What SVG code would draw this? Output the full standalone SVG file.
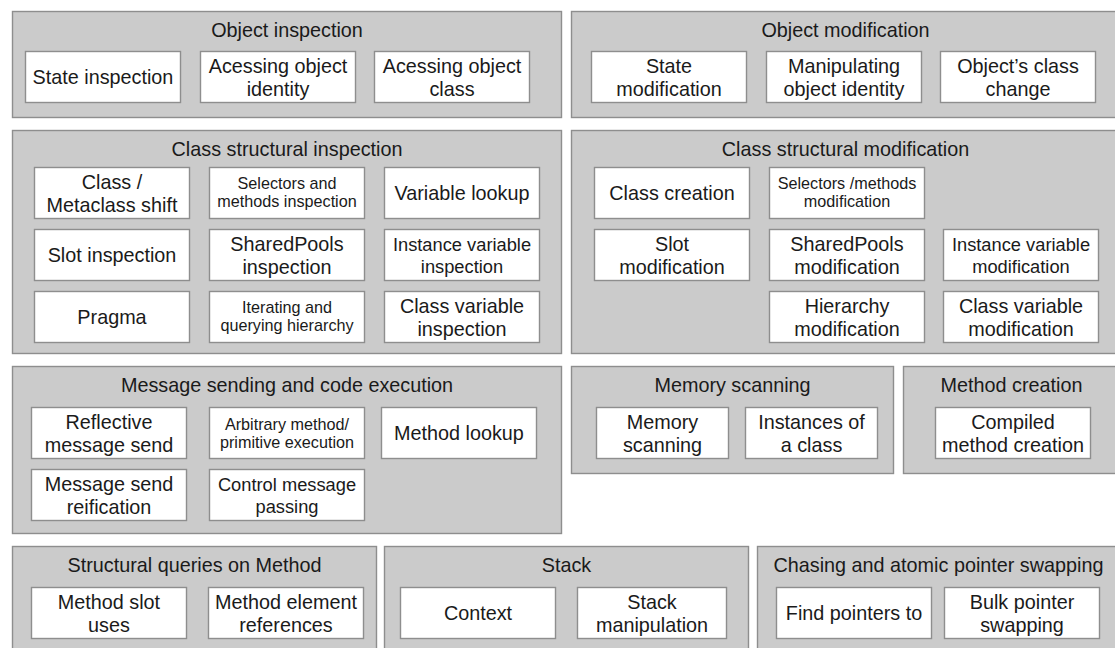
<svg xmlns="http://www.w3.org/2000/svg" width="1115" height="648" viewBox="0 0 1115 648">
<style>
.panel{fill:#cbcbcb;stroke:#8e8e8e;stroke-width:1.4}
.box{fill:#ffffff;stroke:#8e8e8e;stroke-width:1.4}
text{font-family:"Liberation Sans",Arial,Helvetica,sans-serif;fill:#1a1a1a;text-anchor:middle}
.t{font-size:19.8px}
.b{font-size:19.8px}
.n{font-size:18.3px}
.s{font-size:16.2px}
</style>
<rect width="1115" height="648" fill="#ffffff"/>

<g id="object-inspection">
<rect class="panel" x="12.5" y="11.5" width="549" height="106"/>
<text class="t" x="287" y="36.8">Object inspection</text>
<rect class="box" x="25.5" y="51.5" width="155" height="51"/>
<text class="b" x="103" y="84">State inspection</text>
<rect class="box" x="200.5" y="51.5" width="155" height="51"/>
<text class="b" x="278" y="73">Acessing object</text>
<text class="b" x="278" y="95.5">identity</text>
<rect class="box" x="374.5" y="51.5" width="155" height="51"/>
<text class="b" x="452" y="73">Acessing object</text>
<text class="b" x="452" y="95.5">class</text>
</g>

<g id="object-modification">
<rect class="panel" x="571.5" y="11.5" width="548" height="106"/>
<text class="t" x="845.5" y="36.8">Object modification</text>
<rect class="box" x="591.5" y="51.5" width="155" height="51"/>
<text class="b" x="669" y="73">State</text>
<text class="b" x="669" y="95.5">modification</text>
<rect class="box" x="766.5" y="51.5" width="155" height="51"/>
<text class="b" x="844" y="73">Manipulating</text>
<text class="b" x="844" y="95.5">object identity</text>
<rect class="box" x="940.5" y="51.5" width="155" height="51"/>
<text class="b" x="1018" y="73">Object’s class</text>
<text class="b" x="1018" y="95.5">change</text>
</g>

<g id="class-structural-inspection">
<rect class="panel" x="12.5" y="130.5" width="549" height="223"/>
<text class="t" x="287" y="155.8">Class structural inspection</text>
<rect class="box" x="34.5" y="167.5" width="155" height="51"/>
<text class="b" x="112" y="189">Class /</text>
<text class="b" x="112" y="211.5">Metaclass shift</text>
<rect class="box" x="209.5" y="167.5" width="155" height="51"/>
<text class="s" x="287" y="188.8">Selectors and</text>
<text class="s" x="287" y="207">methods inspection</text>
<rect class="box" x="384.5" y="167.5" width="155" height="51"/>
<text class="b" x="462" y="200">Variable lookup</text>
<rect class="box" x="34.5" y="229.5" width="155" height="51"/>
<text class="b" x="112" y="262">Slot inspection</text>
<rect class="box" x="209.5" y="229.5" width="155" height="51"/>
<text class="b" x="287" y="251">SharedPools</text>
<text class="b" x="287" y="273.5">inspection</text>
<rect class="box" x="384.5" y="229.5" width="155" height="51"/>
<text class="n" x="462" y="251">Instance variable</text>
<text class="n" x="462" y="273">inspection</text>
<rect class="box" x="34.5" y="291.5" width="155" height="51"/>
<text class="b" x="112" y="324">Pragma</text>
<rect class="box" x="209.5" y="291.5" width="155" height="51"/>
<text class="s" x="287" y="312.8">Iterating and</text>
<text class="s" x="287" y="331">querying hierarchy</text>
<rect class="box" x="384.5" y="291.5" width="155" height="51"/>
<text class="b" x="462" y="313">Class variable</text>
<text class="b" x="462" y="335.5">inspection</text>
</g>

<g id="class-structural-modification">
<rect class="panel" x="571.5" y="130.5" width="548" height="223"/>
<text class="t" x="845.5" y="155.8">Class structural modification</text>
<rect class="box" x="594.5" y="167.5" width="155" height="51"/>
<text class="b" x="672" y="200">Class creation</text>
<rect class="box" x="769.5" y="167.5" width="155" height="51"/>
<text class="s" x="847" y="188.8">Selectors /methods</text>
<text class="s" x="847" y="207">modification</text>
<rect class="box" x="594.5" y="229.5" width="155" height="51"/>
<text class="b" x="672" y="251">Slot</text>
<text class="b" x="672" y="273.5">modification</text>
<rect class="box" x="769.5" y="229.5" width="155" height="51"/>
<text class="b" x="847" y="251">SharedPools</text>
<text class="b" x="847" y="273.5">modification</text>
<rect class="box" x="943.5" y="229.5" width="155" height="51"/>
<text class="n" x="1021" y="251">Instance variable</text>
<text class="n" x="1021" y="273">modification</text>
<rect class="box" x="769.5" y="291.5" width="155" height="51"/>
<text class="b" x="847" y="313">Hierarchy</text>
<text class="b" x="847" y="335.5">modification</text>
<rect class="box" x="943.5" y="291.5" width="155" height="51"/>
<text class="b" x="1021" y="313">Class variable</text>
<text class="b" x="1021" y="335.5">modification</text>
</g>

<g id="message-sending">
<rect class="panel" x="12.5" y="366.5" width="549" height="167"/>
<text class="t" x="287" y="391.8">Message sending and code execution</text>
<rect class="box" x="31.5" y="407.5" width="155" height="51"/>
<text class="b" x="109" y="429">Reflective</text>
<text class="b" x="109" y="451.5">message send</text>
<rect class="box" x="209.5" y="407.5" width="155" height="51"/>
<text class="s" x="287" y="429.8">Arbitrary method/</text>
<text class="s" x="287" y="447.5">primitive execution</text>
<rect class="box" x="381.5" y="407.5" width="155" height="51"/>
<text class="b" x="459" y="440">Method lookup</text>
<rect class="box" x="31.5" y="469.5" width="155" height="51"/>
<text class="b" x="109" y="491">Message send</text>
<text class="b" x="109" y="513.5">reification</text>
<rect class="box" x="209.5" y="469.5" width="155" height="51"/>
<text class="n" x="287" y="491">Control message</text>
<text class="n" x="287" y="513">passing</text>
</g>

<g id="memory-scanning">
<rect class="panel" x="571.5" y="366.5" width="322" height="107"/>
<text class="t" x="732.5" y="391.8">Memory scanning</text>
<rect class="box" x="596.5" y="407.5" width="132" height="51"/>
<text class="b" x="662.5" y="429">Memory</text>
<text class="b" x="662.5" y="451.5">scanning</text>
<rect class="box" x="745.5" y="407.5" width="132" height="51"/>
<text class="b" x="811.5" y="429">Instances of</text>
<text class="b" x="811.5" y="451.5">a class</text>
</g>

<g id="method-creation">
<rect class="panel" x="903.5" y="366.5" width="216" height="107"/>
<text class="t" x="1011.5" y="391.8">Method creation</text>
<rect class="box" x="935.5" y="407.5" width="155" height="51"/>
<text class="b" x="1013" y="429">Compiled</text>
<text class="b" x="1013" y="451.5">method creation</text>
</g>

<g id="structural-queries">
<rect class="panel" x="12.5" y="546.5" width="364" height="120"/>
<text class="t" x="194.5" y="571.8">Structural queries on Method</text>
<rect class="box" x="31.5" y="587.5" width="155" height="51"/>
<text class="b" x="109" y="609">Method slot</text>
<text class="b" x="109" y="631.5">uses</text>
<rect class="box" x="208.5" y="587.5" width="155" height="51"/>
<text class="b" x="286" y="609">Method element</text>
<text class="b" x="286" y="631.5">references</text>
</g>

<g id="stack">
<rect class="panel" x="384.5" y="546.5" width="364" height="120"/>
<text class="t" x="566.5" y="571.8">Stack</text>
<rect class="box" x="400.5" y="587.5" width="155" height="51"/>
<text class="b" x="478" y="620">Context</text>
<rect class="box" x="577.5" y="587.5" width="149" height="51"/>
<text class="b" x="652" y="609">Stack</text>
<text class="b" x="652" y="631.5">manipulation</text>
</g>

<g id="pointer-swapping">
<rect class="panel" x="757.5" y="546.5" width="362" height="120"/>
<text class="t" x="938.5" y="571.8">Chasing and atomic pointer swapping</text>
<rect class="box" x="776.5" y="587.5" width="155" height="51"/>
<text class="b" x="854" y="620">Find pointers to</text>
<rect class="box" x="944.5" y="587.5" width="155" height="51"/>
<text class="b" x="1022" y="609">Bulk pointer</text>
<text class="b" x="1022" y="631.5">swapping</text>
</g>

<g id="connectors"/>
</svg>
